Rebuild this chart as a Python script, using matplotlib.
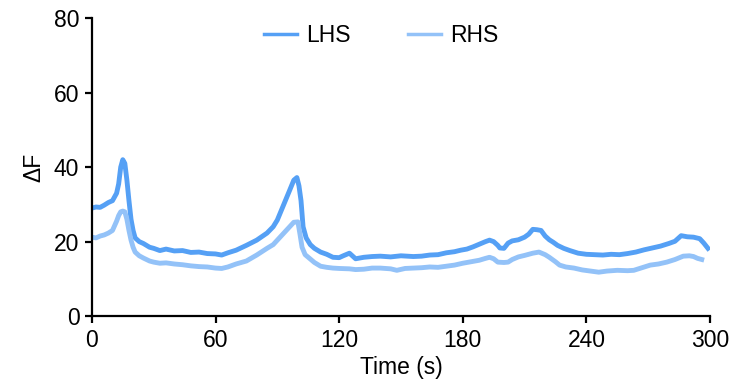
import matplotlib.pyplot as plt

plt.rcParams['font.family'] = ['Liberation Sans', 'DejaVu Sans']

# LHS trace (time in s, dF)
lhs_t = [0, 2, 4, 6, 8, 10, 12, 13, 14, 15, 16, 17, 18, 19, 20, 21, 23, 25, 28, 30,
         33, 36, 40, 44, 48, 52, 56, 60, 63, 66, 70, 75, 80, 85, 88, 90, 93, 96, 98, 99.5,
         100.5, 101.5, 102.5, 104, 106, 108, 111, 114, 117, 120, 122, 125, 128, 132, 136,
         140, 145, 150, 156, 160, 164, 168, 172, 176, 179, 182, 185, 188, 191, 193, 195,
         197, 198, 200, 202, 204, 207, 210, 212, 214, 216, 218, 220, 222, 224, 226, 229,
         232, 236, 240, 244, 248, 252, 256, 260, 264, 268, 272, 276, 280, 283, 286, 289,
         292, 295, 297, 299]
lhs_v = [29, 29.3, 29.2, 29.8, 30.5, 31, 33, 35.5, 40, 42, 41, 36.5, 31, 26, 23, 21, 20,
         19.5, 18.5, 18.2, 17.6, 18, 17.5, 17.6, 17.1, 17.2, 16.8, 16.7, 16.4, 17, 17.7, 19,
         20.4, 22.3, 24, 25.8, 29.8, 33.8, 36.5, 37.2, 35, 31, 24, 21, 19.2, 18.2, 17.2,
         16.6, 15.8, 15.7, 16.2, 16.9, 15.4, 15.8, 16, 16.1, 15.9, 16.2, 16, 16.1, 16.4,
         16.5, 17, 17.3, 17.7, 18, 18.6, 19.3, 20, 20.4, 20, 19, 18.3, 18.2, 19.6, 20.2,
         20.5, 21.2, 22, 23.3, 23.2, 23, 21.5, 20.5, 19.8, 19, 18.2, 17.6, 16.9, 16.6, 16.5,
         16.4, 16.6, 16.5, 16.8, 17.2, 17.8, 18.3, 18.8, 19.5, 20.1, 21.6, 21.3, 21.2, 20.8,
         19.6, 18.2]

# RHS trace
rhs_t = [0, 2, 4, 6, 8, 10, 12, 13, 14, 15, 16, 17, 18, 19, 20, 21, 23, 25, 28, 30,
         33, 36, 40, 44, 48, 52, 56, 60, 63, 66, 70, 75, 80, 85, 88, 90, 93, 96, 98, 100,
         101, 102, 103.5, 105, 108, 111, 114, 117, 120, 125, 128, 132, 136, 140, 145, 148,
         152, 156, 160, 164, 168, 172, 176, 180, 184, 188, 191, 193, 195, 197, 200, 202,
         204, 207, 210, 214, 217, 220, 222, 225, 227, 230, 234, 238, 242, 246, 250, 255,
         260, 263, 267, 271, 275, 279, 283, 287, 290, 292, 294, 296]
rhs_v = [21.2, 21, 21.5, 21.8, 22.3, 23, 25.5, 27, 28, 28.2, 28, 26, 23, 20.4, 18.5, 17.2,
         16.2, 15.6, 14.8, 14.5, 14.2, 14.3, 14, 13.8, 13.5, 13.3, 13.2, 12.9, 12.8, 13.2,
         14, 14.8, 16.4, 18.2, 19.2, 20.4, 22.2, 24, 25.2, 25.3, 22, 18.5, 16.5, 15.8, 14.4,
         13.4, 13.1, 12.9, 12.8, 12.7, 12.5, 12.6, 12.9, 12.9, 12.7, 12.3, 12.8, 12.9, 13,
         13.2, 13.1, 13.4, 13.7, 14.2, 14.6, 15, 15.5, 15.8, 15.4, 14.5, 14.4, 14.5, 15.2,
         15.9, 16.3, 16.9, 17.2, 16.5, 15.8, 14.6, 13.7, 13.2, 12.9, 12.4, 12.1, 11.8, 12.1,
         12.3, 12.2, 12.3, 13, 13.7, 14, 14.5, 15.2, 16.1, 16.2, 16, 15.5, 15.2]

fig = plt.figure(figsize=(7.35, 3.86), dpi=100)
ax = fig.add_axes([0.125, 0.181, 0.841, 0.772])

ax.plot(lhs_t, lhs_v, color='#55a0f5', lw=3.5, label='LHS')
ax.plot(rhs_t, rhs_v, color='#93c2f8', lw=3.5, label='RHS')

ax.set_xlim(0, 300)
ax.set_ylim(0, 80)
ax.set_xticks(range(0, 301, 60))
ax.set_yticks(range(0, 81, 20))
ax.spines['top'].set_visible(False)
ax.spines['right'].set_visible(False)
for s in ['left', 'bottom']:
    ax.spines[s].set_linewidth(1.6)
ax.tick_params(labelsize=16.5, width=1.6, length=5, pad=4)

ax.set_xlabel('Time (s)', fontsize=16.5, labelpad=3)
ax.set_ylabel('ΔF', fontsize=16.5, labelpad=6)

leg = ax.legend(loc='center', ncol=2, frameon=False, fontsize=16.5,
                handlelength=1.45, handletextpad=0.4, columnspacing=2.5,
                bbox_to_anchor=(0.468, 0.943), borderpad=0)
for h in leg.get_lines():
    h.set_linewidth(2.5)

fig.savefig('out.png', dpi=100)
